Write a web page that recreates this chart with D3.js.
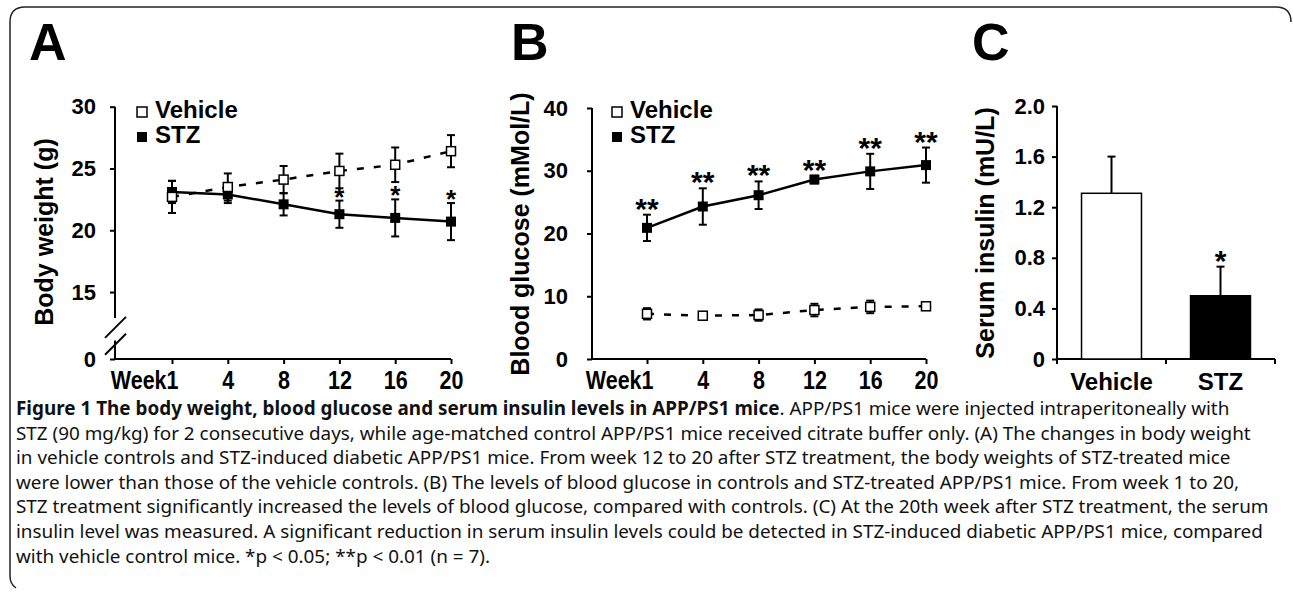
<!DOCTYPE html>
<html>
<head>
<meta charset="utf-8">
<script src="https://cdn.jsdelivr.net/npm/d3@7"></script>
<style>
  body { margin: 0; background: #fff; }
  svg { display: block; font-family: "Liberation Sans", Arial, sans-serif; }
  .axis text { font-weight: bold; fill: #000; }
  .axis line, .axis path { stroke: #000; stroke-width: 2; }
</style>
</head>
<body>
<svg id="fig" width="1293" height="596"></svg>
<script>
// categories
const weeks = ["Week1", "4", "8", "12", "16", "20"];
const groups = ["Vehicle", "STZ"];

// A: body weight (g)
const bwVehicle = [22.7, 23.5, 24.1, 24.8, 25.3, 26.4];
const bwVehicleErr = [1.3, 1.1, 1.1, 1.4, 1.4, 1.3];
const bwStz = [23.1, 22.9, 22.1, 21.3, 21.0, 20.7];
const bwStzErr = [0.9, 0.7, 0.9, 1.1, 1.5, 1.5];
const bwSig = ["", "", "", "*", "*", "*"];
const bwTicks = [0, 15, 20, 25, 30];

// B: blood glucose (mMol/L)
const bgVehicle = [7.2, 6.9, 7.0, 7.8, 8.3, 8.4];
const bgVehicleErr = [0.9, 0.6, 0.9, 1.0, 1.0, 0.5];
const bgStz = [20.9, 24.3, 26.1, 28.6, 29.9, 30.9];
const bgStzErr = [2.1, 2.9, 2.2, 0.6, 2.8, 2.8];
const bgSig = ["**", "**", "**", "**", "**", "**"];
const bgTicks = [0, 10, 20, 30, 40];

// C: serum insulin (mU/L)
const insulin = [1.31, 0.5];
const insulinErr = [0.29, 0.23];
const insulinSig = ["", "*"];
const insTicks = [0, 0.4, 0.8, 1.2, 1.6, 2.0];

const captionBold = "Figure 1 The body weight, blood glucose and serum insulin levels in APP/PS1 mice";
const captionLines = [
  ". APP/PS1 mice were injected intraperitoneally with",
  "STZ (90 mg/kg) for 2 consecutive days, while age-matched control APP/PS1 mice received citrate buffer only. (A) The changes in body weight",
  "in vehicle controls and STZ-induced diabetic APP/PS1 mice. From week 12 to 20 after STZ treatment, the body weights of STZ-treated mice",
  "were lower than those of the vehicle controls. (B) The levels of blood glucose in controls and STZ-treated APP/PS1 mice. From week 1 to 20,",
  "STZ treatment significantly increased the levels of blood glucose, compared with controls. (C) At the 20th week after STZ treatment, the serum",
  "insulin level was measured. A significant reduction in serum insulin levels could be detected in STZ-induced diabetic APP/PS1 mice, compared",
  "with vehicle control mice. *p < 0.05; **p < 0.01 (n = 7)."
];

const svg = d3.select("#fig");
const baseY = 359;

// frame
svg.append("path")
  .attr("d", "M1291,22 Q1291,7 1276,7 L25,7 Q10,7 10,22 L10,576 Q10,584 16,588")
  .attr("fill", "none").attr("stroke", "#222").attr("stroke-width", 1.5);

function panelLetter(txt, x) {
  svg.append("text").attr("x", x).attr("y", 60)
    .attr("font-size", 52).attr("font-weight", "bold").text(txt);
}

function yTitle(txt, x, y) {
  svg.append("text")
    .attr("transform", `translate(${x},${y}) rotate(-90)`)
    .attr("text-anchor", "middle")
    .attr("font-size", 25).attr("font-weight", "bold").text(txt);
}

function errorBars(g, vals, errs, xf, y, both) {
  const cap = 4;
  vals.forEach((v, i) => {
    const cx = xf(i);
    const lo = both ? y(v - errs[i]) : y(v);
    const hi = y(v + errs[i]);
    g.append("line").attr("x1", cx).attr("x2", cx).attr("y1", lo).attr("y2", hi)
      .attr("stroke", "#000").attr("stroke-width", 2);
    g.append("line").attr("x1", cx - cap).attr("x2", cx + cap).attr("y1", hi).attr("y2", hi)
      .attr("stroke", "#000").attr("stroke-width", 2);
    if (both) {
      g.append("line").attr("x1", cx - cap).attr("x2", cx + cap).attr("y1", lo).attr("y2", lo)
        .attr("stroke", "#000").attr("stroke-width", 2);
    }
  });
}

function legend(g, x0, y0) {
  g.append("rect").attr("x", x0).attr("y", y0).attr("width", 10).attr("height", 10)
    .attr("fill", "#fff").attr("stroke", "#000").attr("stroke-width", 1.5);
  g.append("rect").attr("x", x0).attr("y", y0 + 25).attr("width", 10).attr("height", 10)
    .attr("fill", "#000");
  g.append("text").attr("x", x0 + 18).attr("y", y0 + 11).attr("font-size", 24)
    .attr("font-weight", "bold").text("Vehicle");
  g.append("text").attr("x", x0 + 18).attr("y", y0 + 36).attr("font-size", 24)
    .attr("font-weight", "bold").text("STZ");
}

function linePanel(o) {
  const g = svg.append("g");
  const x = d3.scalePoint().domain(weeks).range(o.xRange);
  const xi = i => x(weeks[i]);

  // y axis
  const ya = g.append("g").attr("class", "axis")
    .attr("transform", `translate(${o.axisX},0)`)
    .call(d3.axisLeft(o.y).tickValues(o.ticks).tickSize(5).tickPadding(o.pad).tickSizeOuter(0));
  ya.select(".domain").remove();
  ya.selectAll("text").attr("font-size", 22);
  o.segments.forEach(s => {
    g.append("line").attr("x1", o.axisX).attr("x2", o.axisX)
      .attr("y1", o.y(s[0])).attr("y2", o.y(s[1]))
      .attr("stroke", "#000").attr("stroke-width", 2);
  });

  // x axis, condensed bold labels
  const xa = g.append("g").attr("class", "axis")
    .attr("transform", `translate(0,${baseY})`)
    .call(d3.axisBottom(x).tickSize(5).tickPadding(7));
  xa.select(".domain").remove();
  xa.selectAll("text")
    .attr("font-size", 25)
    .attr("transform", "scale(0.86,1)")
    .attr("text-anchor", d => d === weeks[0] ? "end" : "middle")
    .attr("dx", d => d === weeks[0] ? 7 : 0);
  g.append("line").attr("x1", o.axisX).attr("x2", o.xRange[1])
    .attr("y1", baseY).attr("y2", baseY).attr("stroke", "#000").attr("stroke-width", 2);

  // STZ series
  const line = vals => d3.line().x((d, i) => xi(i)).y(d => o.y(d))(vals);
  g.append("path").attr("d", line(o.stz)).attr("fill", "none")
    .attr("stroke", "#000").attr("stroke-width", 2.5);
  errorBars(g, o.stz, o.stzErr, xi, o.y, true);
  g.selectAll(null).data(o.stz).enter().append("rect")
    .attr("x", (d, i) => xi(i) - 5).attr("y", d => o.y(d) - 5)
    .attr("width", 10).attr("height", 10).attr("fill", "#000");

  // Vehicle series
  g.append("path").attr("d", line(o.veh)).attr("fill", "none")
    .attr("stroke", "#000").attr("stroke-width", 2.5).attr("stroke-dasharray", "7,10");
  errorBars(g, o.veh, o.vehErr, xi, o.y, true);
  g.selectAll(null).data(o.veh).enter().append("rect")
    .attr("x", (d, i) => xi(i) - 4.5).attr("y", d => o.y(d) - 4.5)
    .attr("width", 9).attr("height", 9)
    .attr("fill", "#fff").attr("stroke", "#000").attr("stroke-width", 1.5);

  // significance marks
  g.selectAll(null).data(o.sig).enter().append("text")
    .attr("x", (d, i) => xi(i)).attr("y", (d, i) => o.y(o.stz[i] + o.stzErr[i]) + o.sigDy)
    .attr("text-anchor", "middle").attr("font-size", o.sigSize).attr("font-weight", "bold")
    .text(d => d);

  legend(g, o.legendX, 107);
  return g;
}

// ---- Panel A ----
panelLetter("A", 29);
const yA = d3.scaleLinear().domain([0, 12.3, 30]).range([baseY, 325.4, 106.7]);
const gA = linePanel({
  xRange: [172, 451], axisX: 115, y: yA, ticks: bwTicks, pad: 14,
  segments: [[30, 12.9], [6.8, 0]],
  veh: bwVehicle, vehErr: bwVehicleErr, stz: bwStz, stzErr: bwStzErr,
  sig: bwSig, sigSize: 26, sigDy: 5, legendX: 137
});
// axis break marks
[yA(11.4), yA(5.2)].forEach(by => {
  gA.append("line").attr("x1", 105).attr("x2", 126)
    .attr("y1", by + 10).attr("y2", by - 11)
    .attr("stroke", "#000").attr("stroke-width", 2);
});
yTitle("Body weight (g)", 53, 232);

// ---- Panel B ----
panelLetter("B", 511);
const yB = d3.scaleLinear().domain([0, 40]).range([baseY, 108]);
linePanel({
  xRange: [647, 926], axisX: 592, y: yB, ticks: bgTicks, pad: 19,
  segments: [[40, 0]],
  veh: bgVehicle, vehErr: bgVehicleErr, stz: bgStz, stzErr: bgStzErr,
  sig: bgSig, sigSize: 30, sigDy: 4, legendX: 612
});
yTitle("Blood glucose (mMol/L)", 529, 234);

// ---- Panel C ----
panelLetter("C", 972);
const gC = svg.append("g");
const xC = d3.scaleBand().domain(groups).range([1057, 1275]);
const yC = d3.scaleLinear().domain([0, 2]).range([baseY, 106]);
const barW = xC.bandwidth() * 0.55;

const yaC = gC.append("g").attr("class", "axis")
  .attr("transform", "translate(1057,0)")
  .call(d3.axisLeft(yC).tickValues(insTicks).tickSize(5).tickPadding(7).tickSizeOuter(0)
    .tickFormat(d => d === 0 ? "0" : d3.format(".1f")(d)));
yaC.select(".domain").attr("d", `M0,${yC(2)}V${yC(0)}`);
yaC.selectAll("text").attr("font-size", 22);

gC.append("line").attr("x1", 1057).attr("x2", 1275).attr("y1", baseY).attr("y2", baseY)
  .attr("stroke", "#000").attr("stroke-width", 2);
[...groups.map(d => xC(d)), xC(groups[1]) + xC.bandwidth()].forEach(px => {
  gC.append("line").attr("x1", px).attr("x2", px).attr("y1", baseY).attr("y2", baseY + 5)
    .attr("stroke", "#000").attr("stroke-width", 2);
});
gC.selectAll(null).data(groups).enter().append("text")
  .attr("x", d => xC(d) + xC.bandwidth() / 2).attr("y", 390)
  .attr("text-anchor", "middle").attr("font-size", 24).attr("font-weight", "bold")
  .text(d => d);

errorBars(gC, insulin, insulinErr, i => xC(groups[i]) + xC.bandwidth() / 2, yC, false);
gC.selectAll(null).data(insulin).enter().append("rect")
  .attr("x", (d, i) => xC(groups[i]) + (xC.bandwidth() - barW) / 2)
  .attr("y", d => yC(d)).attr("width", barW).attr("height", d => baseY - yC(d))
  .attr("fill", (d, i) => i === 0 ? "#fff" : "#000")
  .attr("stroke", "#000").attr("stroke-width", 1.5);
gC.selectAll(null).data(insulinSig).enter().append("text")
  .attr("x", (d, i) => xC(groups[i]) + xC.bandwidth() / 2)
  .attr("y", (d, i) => yC(insulin[i] + insulinErr[i]) + 4)
  .attr("text-anchor", "middle").attr("font-size", 30).attr("font-weight", "bold")
  .text(d => d);
yTitle("Serum insulin (mU/L)", 994, 233);

// ---- Caption ----
const cap = svg.append("g")
  .attr("font-family", "'Noto Sans', 'Open Sans', sans-serif").attr("fill", "#111");
const capText = cap.selectAll(null).data(captionLines).enter().append("text")
  .attr("x", 16).attr("y", (d, i) => 415 + i * 24.6).attr("font-size", 16);
capText.each(function (d, i) {
  const t = d3.select(this);
  if (i === 0) t.append("tspan").attr("font-weight", "bold").text(captionBold);
  t.append("tspan").text(d);
});
// fit the caption size to the second line's width in the picture
const w2 = capText.nodes()[1].getComputedTextLength();
capText.attr("font-size", 16 * 1236 / w2);
</script>
</body>
</html>
